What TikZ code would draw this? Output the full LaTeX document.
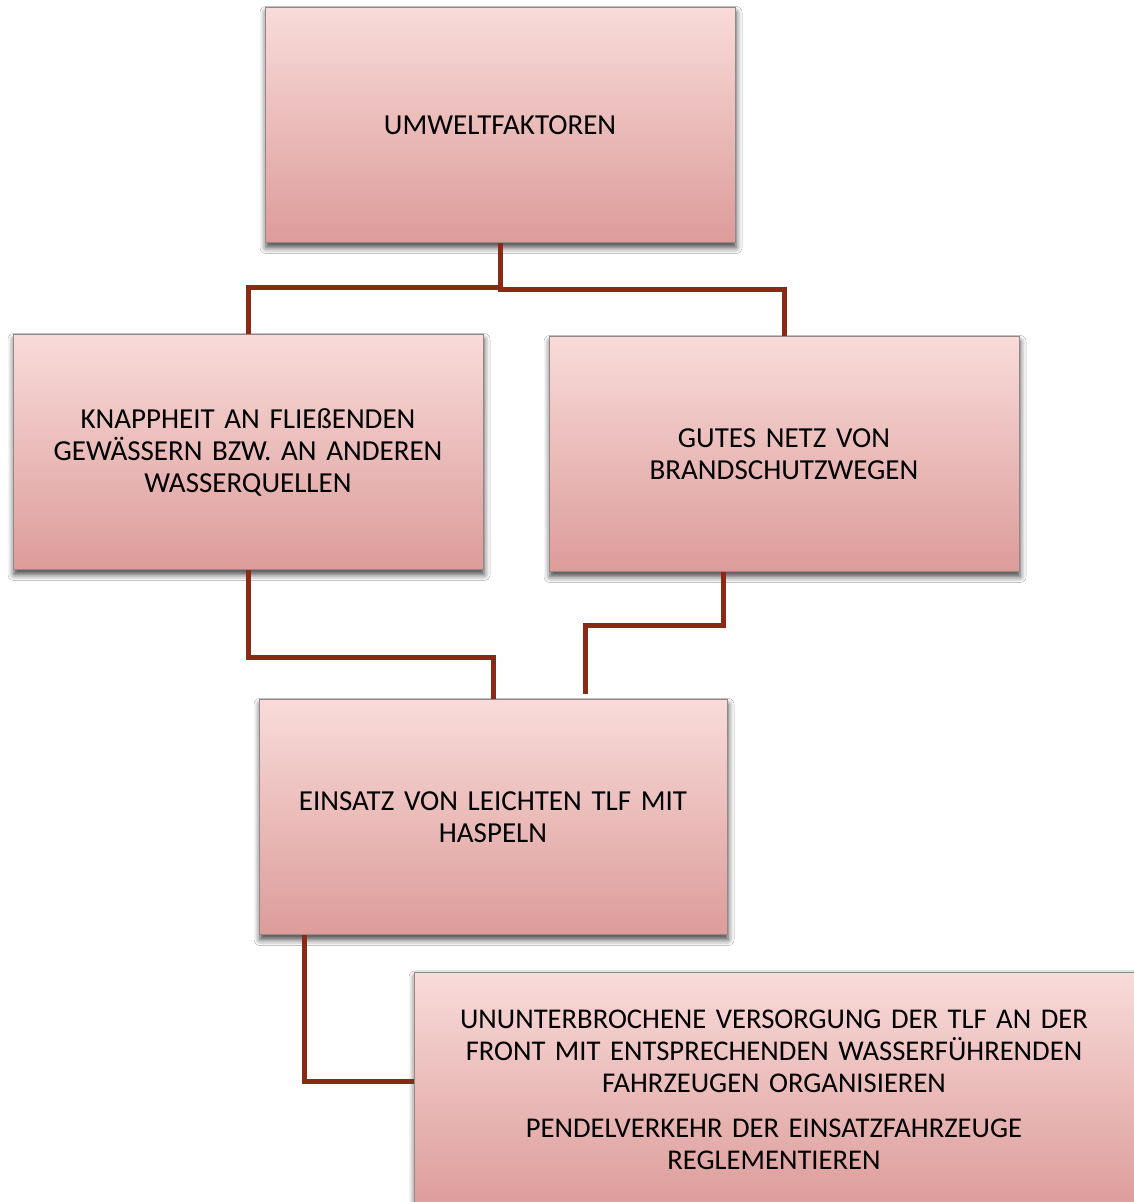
\documentclass[tikz,border=0pt]{standalone}
\usepackage{fontspec}
\setmainfont{Carlito}
\usetikzlibrary{calc,shadows.blur}
\definecolor{boxtop}{RGB}{248,219,217}
\definecolor{boxbot}{RGB}{220,156,154}
\definecolor{boxline}{RGB}{150,135,135}
\definecolor{linkred}{RGB}{139,42,20}
\tikzset{
  fact/.style={rectangle, draw=boxline, line width=0.8pt,
    top color=boxtop, bottom color=boxbot,
    minimum width=470pt, minimum height=235pt, inner sep=0pt,
    text width=420pt, align=center,
    font=\fontsize{29}{32}\selectfont,
    blur shadow={shadow xshift=1pt, shadow yshift=-5pt, shadow blur radius=6pt, shadow opacity=75}},
  link/.style={draw=linkred, line width=5pt}
}
\begin{document}
\begin{tikzpicture}[x=1pt,y=1pt]
\useasboundingbox (0,0) rectangle (1134,1202);
\clip (0,0) rectangle (1134,1202);
\fill[white] (0,0) rectangle (1134,1202);

\node[fact] (env) at (500,1077) {UMWELTFAKTOREN};
\node[fact] (scarce) at (248,750) {KNAPPHEIT AN FLIEßENDEN\\GEWÄSSERN BZW. AN ANDEREN\\WASSERQUELLEN};
\node[fact] (roads) at (784,748) {GUTES NETZ VON\\BRANDSCHUTZWEGEN};
\node[fact, minimum width=468pt] (tlf) at (493,385) {EINSATZ VON LEICHTEN TLF MIT\\HASPELN};
\node[fact, minimum width=720pt, minimum height=236pt, text width=680pt, font=\fontsize{28.6}{32}\selectfont] (supply) at (774,112)
  {UNUNTERBROCHENE VERSORGUNG DER TLF AN DER\\FRONT MIT ENTSPRECHENDEN WASSERFÜHRENDEN\\FAHRZEUGEN ORGANISIEREN\\[13pt]PENDELVERKEHR DER EINSATZFAHRZEUGE\\REGLEMENTIEREN};

% connectors
\draw[link] (env.south) -- ++(0,-45) -| (scarce.north);
\draw[link] (env.south) -- ++(0,-47) -| (roads.north);
\draw[link] (scarce.south) -- ++(0,-88) -| (tlf.north);
\coordinate (rdrop) at ($(roads.south)+(-61,0)$);
\coordinate (rend) at ($(tlf.north)+(92,5)$);
\draw[link] (rdrop) -- ++(0,-54) -| (rend);
\coordinate (tdrop) at ($(tlf.south west)+(46,0)$);
\draw[link] (tdrop) |- ($(supply.west)+(0,8)$);
\end{tikzpicture}
\end{document}
